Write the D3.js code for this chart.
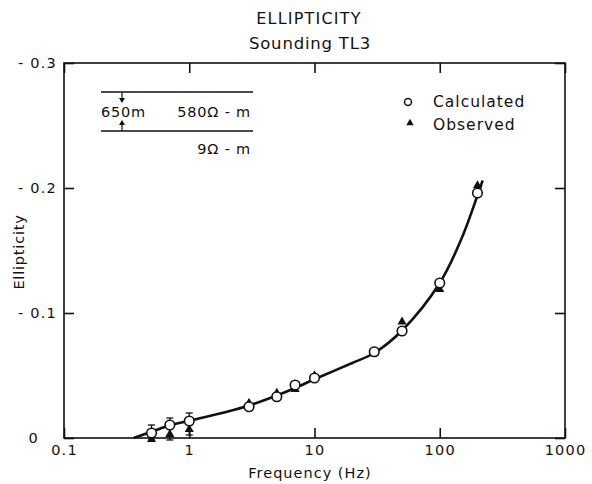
<!DOCTYPE html>
<html><head><meta charset="utf-8">
<script src="https://cdn.jsdelivr.net/npm/d3@7"></script>
<style>body{margin:0;background:#fff}svg{display:block}text{font-family:"DejaVu Sans",sans-serif;fill:#111}</style>
</head><body>
<svg id="c" width="592" height="484"></svg>
<script>
// Data (ellipticity values; axis shows them as negative)
const calcFreq = [0.5, 0.7, 1, 3, 5, 7, 10, 30, 50, 100, 200];
const calcVal  = [0.004, 0.0104, 0.0136, 0.025, 0.033, 0.0424, 0.048, 0.069, 0.0856, 0.124, 0.196];
const obsFreq  = [0.5, 0.7, 1, 3, 5, 7, 10, 30, 50, 100, 200];
const obsVal   = [-0.001, 0.003, 0.007, 0.028, 0.036, 0.039, 0.050, 0.068, 0.093, 0.119, 0.202];
const errFreq  = [0.5, 0.7, 1];
const errLow   = [-0.0016, -0.0016, 0.0024];
const errHigh  = [0.0104, 0.016, 0.020];
const curveFreq = [0.36, 0.5, 0.7, 1, 2, 3, 5, 7, 10, 20, 30, 50, 100, 150, 200, 220];
const curveVal  = [0, 0.005, 0.0102, 0.0138, 0.021, 0.026, 0.034, 0.040, 0.047, 0.060, 0.068, 0.086, 0.124, 0.160, 0.194, 0.206];
const xTicks = [0.1, 1, 10, 100, 1000];
const xTickLabels = ["0.1", "1", "10", "100", "1000"];
const yTicks = [0, 0.1, 0.2, 0.3];
const yTickLabels = ["0", "- 0.1", "- 0.2", "- 0.3"];

const svg = d3.select("#c");
const L = 64, R = 565, T = 63, B = 438;
const x = d3.scaleLog().domain([0.1, 1000]).range([L, R]);
const y = d3.scaleLinear().domain([0, 0.3]).range([B, T]);

// Title
svg.append("text").attr("x", 309).attr("y", 24).attr("text-anchor", "middle")
  .attr("font-size", 16).attr("letter-spacing", 1.2).text("ELLIPTICITY");
svg.append("text").attr("x", 310).attr("y", 49).attr("text-anchor", "middle")
  .attr("font-size", 16.5).attr("letter-spacing", 0.8).text("Sounding TL3");

// Frame
svg.append("rect").attr("x", L).attr("y", T).attr("width", R - L).attr("height", B - T)
  .attr("fill", "none").attr("stroke", "#111").attr("stroke-width", 1.6);

// Axes (ticks inside)
const gx = svg.append("g").attr("transform", `translate(0,${B})`)
  .call(d3.axisBottom(x).tickValues(xTicks).tickSize(-10).tickPadding(7)
    .tickFormat((d, i) => xTickLabels[i]));
const gxt = svg.append("g").attr("transform", `translate(0,${T})`)
  .call(d3.axisTop(x).tickValues(xTicks).tickSize(-10).tickFormat(""));
const gy = svg.append("g").attr("transform", `translate(${L},0)`)
  .call(d3.axisLeft(y).tickValues(yTicks).tickSize(-10).tickPadding(7)
    .tickFormat((d, i) => yTickLabels[i]));
const gyr = svg.append("g").attr("transform", `translate(${R},0)`)
  .call(d3.axisRight(y).tickValues(yTicks).tickSize(-10).tickFormat(""));
[gx, gxt, gy, gyr].forEach(g => {
  g.select(".domain").remove();
  g.selectAll(".tick line").attr("stroke", "#111").attr("stroke-width", 1.6);
  g.selectAll("text").attr("font-size", 14.5).attr("letter-spacing", 1.2)
    .attr("font-family", "DejaVu Sans, sans-serif").attr("fill", "#111");
});
// "0" label sits under the "0" digit of the other labels
gy.selectAll(".tick").filter(d => d === 0).select("text").attr("dx", -18);

// Axis titles
svg.append("text").attr("x", 310).attr("y", 478).attr("text-anchor", "middle")
  .attr("font-size", 14.5).attr("letter-spacing", 1).text("Frequency (Hz)");
svg.append("text").attr("transform", "translate(24,252) rotate(-90)").attr("text-anchor", "middle")
  .attr("font-size", 14.5).attr("letter-spacing", 0.8).text("Ellipticity");

// Inset model
const inset = svg.append("g");
inset.append("line").attr("x1", 101).attr("x2", 253).attr("y1", 92).attr("y2", 92).attr("stroke", "#111").attr("stroke-width", 1.5);
inset.append("line").attr("x1", 101).attr("x2", 253).attr("y1", 131).attr("y2", 131).attr("stroke", "#111").attr("stroke-width", 1.5);
inset.append("line").attr("x1", 122).attr("x2", 122).attr("y1", 92).attr("y2", 101).attr("stroke", "#111").attr("stroke-width", 1.2);
inset.append("path").attr("d", "M119,98 L125,98 L122,103 Z").attr("fill", "#111");
inset.append("line").attr("x1", 122).attr("x2", 122).attr("y1", 122).attr("y2", 131).attr("stroke", "#111").attr("stroke-width", 1.2);
inset.append("path").attr("d", "M119,125 L125,125 L122,120 Z").attr("fill", "#111");
inset.append("text").attr("x", 101).attr("y", 117).attr("font-size", 14.5).attr("letter-spacing", 0.8).text("650m");
inset.append("text").attr("x", 251).attr("y", 117).attr("text-anchor", "end").attr("font-size", 14.5).attr("letter-spacing", 0.8).text("580Ω - m");
inset.append("text").attr("x", 251).attr("y", 154).attr("text-anchor", "end").attr("font-size", 14.5).attr("letter-spacing", 0.8).text("9Ω - m");

// Legend
svg.append("circle").attr("cx", 408).attr("cy", 102).attr("r", 3.5).attr("fill", "#fff").attr("stroke", "#111").attr("stroke-width", 1.5);
svg.append("text").attr("x", 433).attr("y", 107).attr("font-size", 15.5).attr("letter-spacing", 1).text("Calculated");
svg.append("path").attr("d", d3.symbol(d3.symbolTriangle, 24)()).attr("transform", "translate(410,123)").attr("fill", "#111");
svg.append("text").attr("x", 433).attr("y", 130).attr("font-size", 15.5).attr("letter-spacing", 1).text("Observed");

// Model curve
const curvePts = curveFreq.map((f, i) => [x(f), y(curveVal[i])]);
svg.append("path").attr("d", d3.line().curve(d3.curveCatmullRom.alpha(0.5))(curvePts))
  .attr("fill", "none").attr("stroke", "#111").attr("stroke-width", 2.6);

// Error bars
const eb = svg.append("g").attr("stroke", "#111").attr("stroke-width", 1.3);
errFreq.forEach((f, i) => {
  const cx = x(f);
  eb.append("line").attr("x1", cx).attr("x2", cx).attr("y1", y(errLow[i])).attr("y2", y(errHigh[i]));
  eb.append("line").attr("x1", cx - 3.5).attr("x2", cx + 3.5).attr("y1", y(errHigh[i])).attr("y2", y(errHigh[i]));
  eb.append("line").attr("x1", cx - 3.5).attr("x2", cx + 3.5).attr("y1", y(errLow[i])).attr("y2", y(errLow[i]));
});

// Observed triangles
svg.append("g").selectAll("path").data(obsFreq).join("path")
  .attr("d", d3.symbol(d3.symbolTriangle, 36)())
  .attr("transform", (d, i) => `translate(${x(d)},${y(obsVal[i])})`)
  .attr("fill", "#111");

// Calculated circles
svg.append("g").selectAll("circle").data(calcFreq).join("circle")
  .attr("cx", d => x(d)).attr("cy", (d, i) => y(calcVal[i])).attr("r", 4.8)
  .attr("fill", "#fff").attr("stroke", "#111").attr("stroke-width", 1.6);
</script>
</body></html>
